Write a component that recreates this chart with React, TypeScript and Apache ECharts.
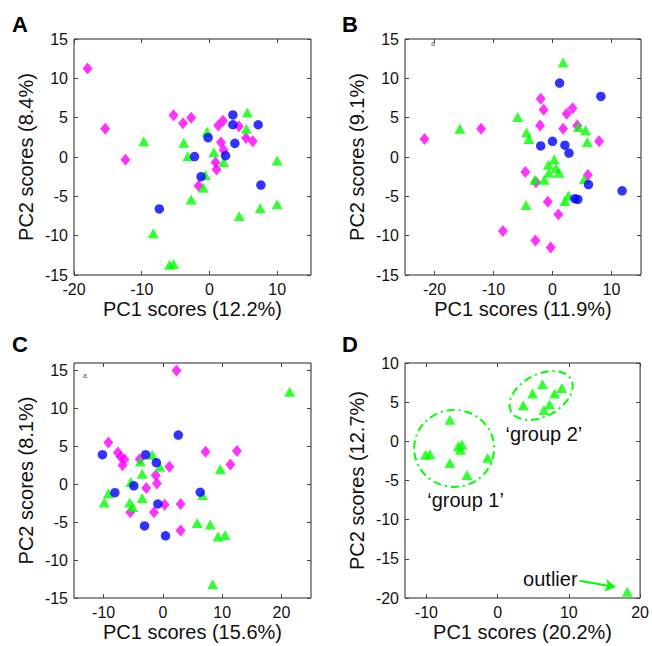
import React, { useEffect, useRef } from "react";
import * as echarts from "echarts";

// ---------- data ----------
const magentaA = [[-18.0, 11.25], [-15.4, 3.6], [-12.4, -0.34], [-5.3, 5.3], [-3.9, 4.3], [-2.7, 5.0], [-1.6, -3.65], [0.9, -0.7], [1.05, -1.6], [1.3, 4.0], [2.0, 4.6], [1.7, 1.85], [2.1, 0.9], [4.35, 3.9], [5.4, 2.4], [6.4, 2.0]];
const blueA = [[-7.4, -6.6], [-2.2, 0.05], [-1.24, -2.5], [-0.2, 2.46], [2.38, 0.17], [3.46, 5.35], [3.46, 4.1], [3.76, 1.74], [7.2, 4.1], [7.6, -3.57]];
const greenA = [[-9.7, 2.0], [-8.3, -9.7], [-5.9, -13.7], [-5.3, -13.6], [-3.8, 1.8], [-3.2, 0.1], [-2.7, -5.4], [-0.9, -3.9], [-0.6, -2.3], [-0.35, 3.2], [0.65, 0.6], [2.1, -0.65], [5.6, 5.65], [5.45, 3.6], [4.4, -7.5], [7.5, -6.5], [10.0, -0.45], [10.0, -6.0]];

const magentaB = [[-21.7, 2.3], [-12.1, 3.6], [-8.4, -9.4], [-4.6, -1.9], [-2.9, -10.6], [-2.8, -3.2], [-2.1, 4.0], [-2.0, 7.4], [-1.5, 6.0], [-0.8, -5.7], [-0.3, -11.5], [1.0, -7.3], [1.8, 3.6], [2.4, 5.5], [3.4, 6.2], [4.2, 4.0], [6.0, -2.3], [7.9, 2.0]];
const blueB = [[-2.0, 1.4], [0.0, 2.0], [1.2, 9.4], [2.1, 1.5], [2.8, 0.5], [3.8, -5.3], [4.3, -5.4], [6.1, -3.5], [8.2, 7.7], [11.8, -4.3]];
const greenB = [[-15.7, 3.6], [-5.9, 5.1], [-4.4, 3.1], [-4.0, 2.3], [-4.5, -6.1], [-3.0, -2.9], [-1.4, -2.9], [-0.7, -1.0], [0.3, -0.3], [-0.6, -2.0], [0.6, -1.4], [1.1, -2.0], [1.8, 12.0], [2.1, -5.6], [2.7, -4.9], [4.4, 3.8], [5.6, 3.4], [5.9, 1.9], [5.4, -2.8]];

const magentaC = [[-9.2, 5.5], [-7.6, 4.2], [-7.1, 3.6], [-6.5, 3.3], [-6.8, 2.5], [-3.9, 3.3], [-2.8, -0.5], [-1.5, -3.7], [-5.5, -3.7], [-1.2, 1.2], [-1.0, 0.1], [0.3, -2.7], [1.1, 2.3], [2.3, 15.0], [3.0, -2.6], [3.0, -6.1], [7.2, 4.3], [11.4, 2.6], [12.5, 4.4]];
const blueC = [[-10.2, 3.9], [-8.1, -1.1], [-4.9, -0.2], [-2.9, 3.9], [-1.1, 2.85], [-0.85, -2.6], [-3.1, -5.5], [0.45, -6.8], [2.6, 6.5], [6.3, -1.05]];
const greenC = [[-9.9, -2.4], [-9.2, -1.2], [-5.4, 0.3], [-5.6, -2.4], [-5.1, -3.0], [-3.5, -1.8], [-3.8, 3.0], [-3.5, 1.4], [-1.8, 3.9], [-0.5, 2.3], [5.8, -5.1], [6.7, -1.4], [8.0, -5.3], [9.3, -6.9], [10.5, -6.7], [9.7, 2.0], [8.4, -13.2], [21.4, 12.2]];

const greenD = [[-6.7, 2.75], [-10.1, -1.7], [-9.5, -1.65], [-6.7, -2.75], [-5.5, -0.6], [-5.0, -0.4], [-5.2, -1.06], [-4.3, -4.3], [-1.4, -2.1], [3.6, 4.6], [4.9, 6.1], [6.3, 7.3], [6.5, 4.0], [7.3, 4.7], [8.0, 6.1], [9.0, 6.8], [18.2, -19.2]];

const panelLetters = ["A", "B", "C", "D"];
const xNames = ["PC1 scores (12.2%)", "PC1 scores (11.9%)", "PC1 scores (15.6%)", "PC1 scores (20.2%)"];
const yNames = ["PC2 scores (8.4%)", "PC2 scores (9.1%)", "PC2 scores (8.1%)", "PC2 scores (12.7%)"];
const xRanges = [[-20, 15], [-25, 15], [-15, 25], [-13, 20]];
const yRanges = [[-15, 15], [-15, 15], [-15, 16], [-20, 10]];
const xTicks = [[-20, -10, 0, 10], [-20, -10, 0, 10], [-10, 0, 10, 20], [-10, 0, 10, 20]];
const yTicks15 = [-15, -10, -5, 0, 5, 10, 15];
const yTicksD = [-20, -15, -10, -5, 0, 5, 10];
const yTicks = [yTicks15, yTicks15, yTicks15, yTicksD];

// annotations of panel D (data coordinates)
const group1Center = [-6.1, -0.9];
const group2Center = [6.1, 5.85];
const group1Label = { text: "\u2018group 1\u2019", at: [-4.5, -7.5] };
const group2Label = { text: "\u2018group 2\u2019", at: [6.5, 1.0] };
const outlierLabel = { text: "outlier", at: [7.4, -17.6] };
const arrowFrom = [11.5, -17.8];
const arrowTo = [16.5, -18.6];

// ---------- styles ----------
const FONT = "'Liberation Sans', Arial, Helvetica, sans-serif";
const MAGENTA = "#ff00ff";
const BLUE = "#0000ff";
const GREEN = "#00ff00";
const grids = [
  { left: 74, top: 39, width: 237, height: 236 },
  { left: 405, top: 39, width: 236, height: 236 },
  { left: 74, top: 363, width: 237, height: 235 },
  { left: 405, top: 363, width: 236, height: 235 },
];
const letterPos = [[12, 25], [342, 25], [12, 345], [342, 345]];

function buildOption() {
  const grid: any[] = [];
  const xAxis: any[] = [];
  const yAxis: any[] = [];
  const series: any[] = [];
  const graphic: any[] = [];
  const tick = { show: true, inside: true, length: 4, lineStyle: { color: "#444", width: 1 } };

  for (let p = 0; p < 4; p++) {
    grid.push({ ...grids[p], show: true, borderColor: "#222", borderWidth: 1, backgroundColor: "transparent" });
    const xBase = {
      type: "value", gridIndex: p, min: xRanges[p][0], max: xRanges[p][1],
      axisLine: { show: false, onZero: false }, splitLine: { show: false },
    };
    xAxis.push({
      ...xBase, position: "bottom",
      axisTick: { ...tick, customValues: xTicks[p] },
      axisLabel: { customValues: xTicks[p], margin: 6, fontSize: 16, color: "#111", fontFamily: FONT },
      name: xNames[p], nameLocation: "middle", nameGap: 24,
      nameTextStyle: { fontSize: 20, color: "#111", fontFamily: FONT },
    });
    xAxis.push({
      ...xBase, position: "top",
      axisTick: { ...tick, customValues: xTicks[p] },
      axisLabel: { show: false },
    });
    const yBase = {
      type: "value", gridIndex: p, min: yRanges[p][0], max: yRanges[p][1],
      axisLine: { show: false, onZero: false }, splitLine: { show: false },
    };
    yAxis.push({
      ...yBase, position: "left",
      axisTick: { ...tick, customValues: yTicks[p] },
      axisLabel: { customValues: yTicks[p], margin: 6, fontSize: 16, color: "#111", fontFamily: FONT },
      name: yNames[p], nameLocation: "middle", nameGap: 38,
      nameTextStyle: { fontSize: 20, color: "#111", fontFamily: FONT },
    });
    yAxis.push({
      ...yBase, position: "right",
      axisTick: { ...tick, customValues: yTicks[p] },
      axisLabel: { show: false },
    });
    graphic.push({
      type: "text", left: letterPos[p][0], top: letterPos[p][1] - 12,
      style: { text: panelLetters[p], fontSize: 22, fontWeight: "bold", fontFamily: FONT, fill: "#000" },
    });
  }

  const mk = (p: number, data: number[][], kind: string) => {
    const common = { type: "scatter", xAxisIndex: 2 * p, yAxisIndex: 2 * p, data, silent: true };
    if (kind === "m") return { ...common, symbol: "diamond", symbolSize: [10, 12], itemStyle: { color: MAGENTA } };
    if (kind === "b") return { ...common, symbol: "circle", symbolSize: 9.5, itemStyle: { color: BLUE } };
    return { ...common, symbol: "triangle", symbolSize: [11, 10], itemStyle: { color: GREEN } };
  };
  series.push(mk(0, magentaA, "m"), mk(0, greenA, "g"), mk(0, blueA, "b"));
  series.push(mk(1, magentaB, "m"), mk(1, greenB, "g"), mk(1, blueB, "b"));
  series.push(mk(2, magentaC, "m"), mk(2, greenC, "g"), mk(2, blueC, "b"));
  const dSeries: any = mk(3, greenD, "g");
  dSeries.markLine = {
    silent: true, symbol: ["none", "arrow"], symbolSize: 10,
    lineStyle: { color: GREEN, width: 2, type: "solid" },
    itemStyle: { color: GREEN },
    label: { show: false },
    data: [[{ coord: arrowFrom }, { coord: arrowTo }]],
  };
  series.push(dSeries);

  const dash = { fill: "none", stroke: GREEN, lineWidth: 2, lineDash: [8, 4, 2, 4] };
  const txt = (t: string, c: number[]) => ({
    type: "text", x: c[0], y: c[1],
    style: { text: t, fontSize: 20, fontFamily: FONT, fill: "#111", align: "center", verticalAlign: "middle" },
  });
  series.push({
    type: "custom", xAxisIndex: 6, yAxisIndex: 6, silent: true, z: 5,
    data: [[0, 0]],
    renderItem: (_params: any, api: any) => {
      const c1 = api.coord(group1Center);
      const c2 = api.coord(group2Center);
      return {
        type: "group",
        children: [
          { type: "ellipse", shape: { cx: c1[0], cy: c1[1], rx: 40, ry: 38.5 }, style: dash },
          { type: "ellipse", x: c2[0], y: c2[1], rotation: (28 * Math.PI) / 180, shape: { cx: 0, cy: 0, rx: 34, ry: 21 }, style: dash },
          txt(group1Label.text, api.coord(group1Label.at)),
          txt(group2Label.text, api.coord(group2Label.at)),
          txt(outlierLabel.text, api.coord(outlierLabel.at)),
        ],
      };
    },
  });

  // tiny marks in the corners of panels B and C
  graphic.push({ type: "text", left: 431, top: 40, style: { text: "a", fontSize: 7, fontFamily: FONT, fill: "#555" } });
  graphic.push({ type: "text", left: 83, top: 372, style: { text: "a", fontSize: 7, fontFamily: FONT, fill: "#555" } });

  return {
    animation: false,
    backgroundColor: "#ffffff",
    grid, xAxis, yAxis, series, graphic,
  };
}

export default function App() {
  const ref = useRef<HTMLDivElement>(null);
  useEffect(() => {
    if (!ref.current) return;
    const chart = echarts.init(ref.current, undefined, { renderer: "svg" });
    chart.setOption(buildOption() as any);
    return () => chart.dispose();
  }, []);
  return (
    <div
      ref={ref}
      style={{ position: "fixed", left: 0, top: 0, width: 652, height: 646, background: "#fff" }}
    />
  );
}
